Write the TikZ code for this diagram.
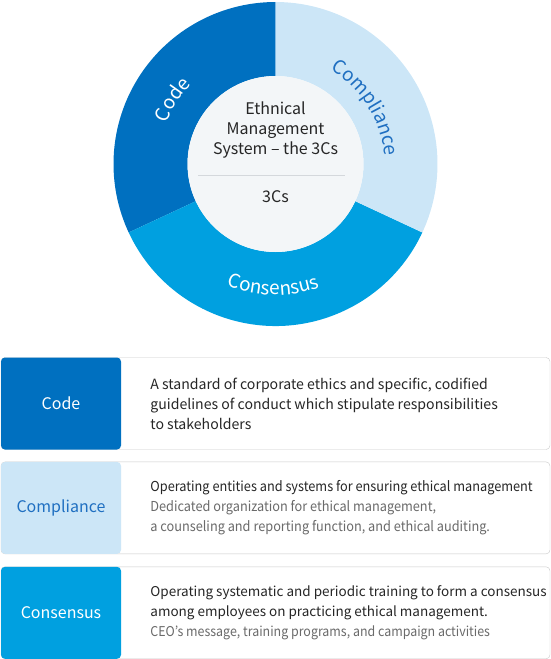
\documentclass[tikz,border=0pt]{standalone}
\usepackage{fontspec}
\setmainfont{Noto Sans CJK KR}
\usetikzlibrary{positioning, decorations.text, calc}

\definecolor{codeblue}{HTML}{0070C0}
\definecolor{complblue}{HTML}{CCE6F7}
\definecolor{consblue}{HTML}{00A0E0}
\definecolor{complink}{HTML}{1F6FC1}
\definecolor{hubgray}{HTML}{F3F6F8}
\definecolor{txtdark}{HTML}{262626}
\definecolor{txtgray}{HTML}{6A6A6A}
\definecolor{framegray}{HTML}{C9C9C9}
\definecolor{rulegray}{HTML}{D4D8DC}

\begin{document}
\begin{tikzpicture}[
  x=1pt, y=1pt,
  hubdisc/.style = {circle, fill=hubgray, minimum size=176pt, inner sep=0pt},
  hubtext/.style = {align=center, text=txtdark, font=\fontsize{16}{20}\selectfont},
  card/.style    = {draw=framegray, fill=white, rounded corners=4pt,
                    minimum width=549pt, minimum height=92pt, inner sep=0pt},
  tag/.style     = {rounded corners=4pt, minimum width=120pt, minimum height=92pt,
                    inner sep=0pt, font=\fontsize{16}{16}\selectfont},
  desc/.style    = {align=left, inner sep=0pt, text=txtdark,
                    font=\fontsize{#1}{20}\selectfont},
  ringlabel/.style = {decorate, decoration={text along path, text align=center,
                    text color=#1}},
]
  \useasboundingbox (0,0) rectangle (551,-659);

  % ring of the three Cs
  \coordinate (hub) at (275.5,-164);
  \foreach \a/\b/\c in {90/205/codeblue, 205/335/consblue, -25/90/complblue}
    \fill[\c] ($(hub)+(\a:162)$) arc[start angle=\a, end angle=\b, radius=162]
      -- ($(hub)+(\b:88)$) arc[start angle=\b, end angle=\a, radius=88] -- cycle;

  \path[ringlabel=white, decoration={text={|\fontsize{19}{19}\selectfont|Code}}]
    ($(hub)+(188:116)$) arc[start angle=188, end angle=108, radius=116];
  \path[ringlabel=complink, decoration={text={|\fontsize{19}{19}\selectfont|Compliance}}]
    ($(hub)+(82:109)$) arc[start angle=82, end angle=-18, radius=109];
  \path[ringlabel=white, decoration={text={|\fontsize{19}{19}\selectfont|Consensus}}]
    ($(hub)+(229:131)$) arc[start angle=229, end angle=309, radius=131];

  % centre disc
  \node[hubdisc] (core) at (hub) {};
  \node[hubtext] (title) at (275.5,-130) {Ethnical\\Management\\System – the 3Cs};
  \coordinate (ruleL) at (198,-175);
  \coordinate (ruleR) at (345,-175);
  \draw[rulegray, line width=0.8pt] (ruleL) -- (ruleR);
  \node[hubtext] (short) at (275.5,-197) {3Cs};

  % cards
  \node[card] (cardcode) at (275.5,-403.5) {};
  \node[card, below=12pt of cardcode] (cardcompl) {};
  \node[card, below=12.5pt of cardcompl] (cardcons) {};

  \node[tag, fill=codeblue, text=white, anchor=west] (tagcode) at (cardcode.west) {Code};
  \node[tag, fill=complblue, text=complink, anchor=west] (tagcompl) at (cardcompl.west) {Compliance};
  \node[tag, fill=consblue, text=white, anchor=west] (tagcons) at (cardcons.west) {Consensus};

  \node[desc=14.1, right=29pt of tagcode] (desccode)
    {A standard of corporate ethics and specific, codified\\
     guidelines of conduct which stipulate responsibilities\\
     to stakeholders};
  \node[desc=13.7, right=29pt of tagcompl] (desccompl)
    {\addfontfeature{FakeStretch=0.93}Operating entities and systems for ensuring ethical management\\
     {\color{txtgray}\addfontfeature{FakeStretch=0.93}Dedicated organization for ethical management,}\\
     {\color{txtgray}\addfontfeature{FakeStretch=0.93}a counseling and reporting function, and ethical auditing.}};
  \node[desc=13.5, right=29pt of tagcons] (desccons)
    {Operating systematic and periodic training to form a consensus\\
     among employees on practicing ethical management.\\
     {\color{txtgray}\addfontfeature{FakeStretch=0.92}CEO’s message, training programs, and campaign activities}};
\end{tikzpicture}
\end{document}
